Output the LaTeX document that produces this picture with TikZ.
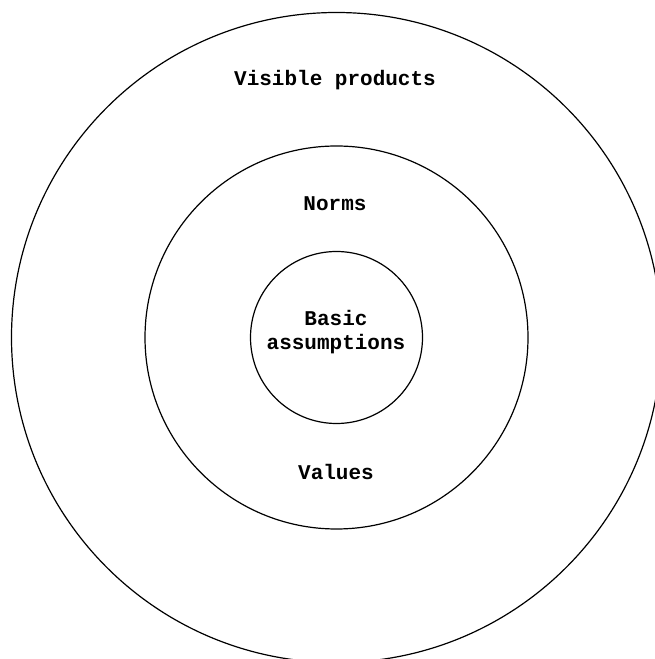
\documentclass[tikz,border=0pt]{standalone}
\usepackage{fontspec}
\setmonofont{Liberation Mono}
\begin{document}
\begin{tikzpicture}[x=1pt, y=1pt,
  ring/.style={draw, circle, line width=1.2pt, inner sep=0pt},
  lbl/.style={font=\fontsize{21}{24}\selectfont\ttfamily\bfseries, align=center}
]
  \useasboundingbox (0,0) rectangle (655,659);
  \clip (0,0) rectangle (655,659);
  \node[ring, minimum size=650pt] (products) at (336.5,321.5) {};
  \node[ring, minimum size=383pt] (norms) at (336.5,321.5) {};
  \node[ring, minimum size=172pt] (core) at (336.5,321.5) {};
  \node[lbl] (productstxt) at (335,579) {Visible products};
  \node[lbl] (normstxt) at (335,455) {Norms};
  \node[lbl] (coretxt) at (336,327) {Basic\\assumptions};
  \node[lbl] (valuestxt) at (336,187) {Values};
\end{tikzpicture}
\end{document}
